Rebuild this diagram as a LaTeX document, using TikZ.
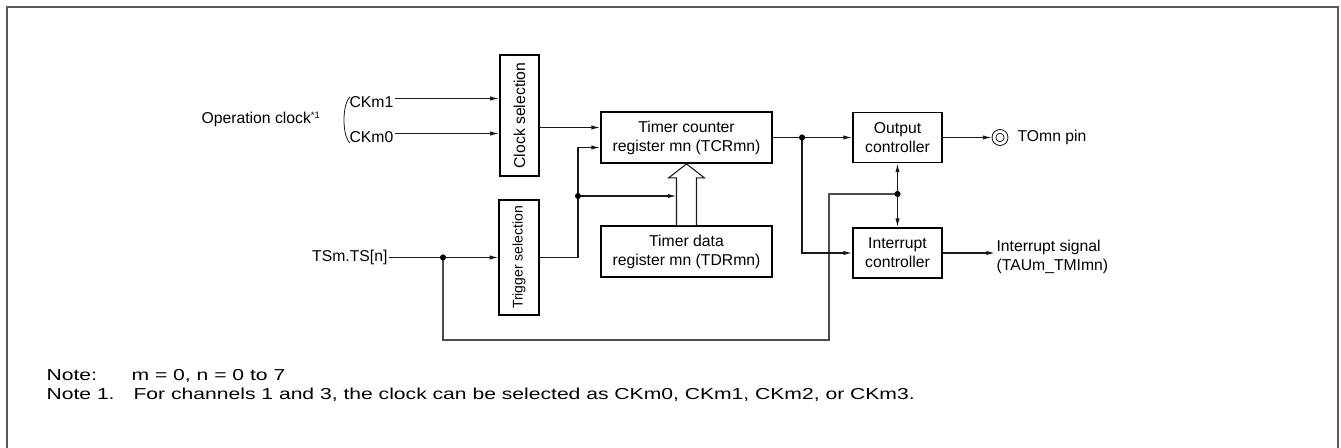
\documentclass[tikz,border=0pt]{standalone}
\usepackage{fontspec}
\setmainfont{Liberation Sans}
\newfontfamily\notefont[FakeStretch=1.33]{Liberation Sans}
\usepackage{graphicx}
\usetikzlibrary{arrows.meta,calc,positioning}

\begin{document}
\begin{tikzpicture}[
    x=0.75pt, y=-0.75pt,
    font=\fontsize{11.8}{14.3}\selectfont,
    box/.style={rectangle, draw, line width=1.4pt, align=center, inner sep=0pt},
    selbox/.style={box, minimum width=29.5pt},
    regbox/.style={box, minimum width=128.25pt, minimum height=38.25pt},
    ctrlbox/.style={box, minimum width=66.75pt, minimum height=37.5pt},
    sig/.style={draw=black!90, line width=0.8pt},
    arrow/.style={sig, -{Latex[length=6.5pt,width=3.2pt]}},
    lbl/.style={inner sep=1pt},
    frame/.style={draw=black!65, line width=1.5pt}
]
\useasboundingbox (0,0) rectangle (1341,448);
\draw[frame] (7,460) -- (7,7) -- (1338,7) -- (1338,460);

% blocks
\node[selbox, minimum height=90.75pt] (clksel) at (519.5,115.5) {\rotatebox{90}{Clock selection}};
\node[selbox, minimum height=86.25pt] (trgsel) at (519,257.5) {\rotatebox{90}{\fontsize{10.5}{12}\selectfont Trigger selection}};
\node[regbox] (tcr) at (686.5,137.5) {Timer counter\\register mn (TCRmn)};
\node[regbox] (tdr) at (686.5,251.5) {Timer data\\register mn (TDRmn)};
\node[ctrlbox] (outc) at (897.5,137.5) {Output\\controller};
\node[ctrlbox] (intc) at (897.5,253) {Interrupt\\controller};

% inputs and outputs
\node[lbl, anchor=east] (opclk) at (322,119.5) {Operation clock\textsuperscript{\fontsize{7}{8}\selectfont *1}};
\node[lbl, anchor=west] (ckm1) at (348,102.5) {CKm1};
\node[lbl, anchor=west] (ckm0) at (348,137.5) {CKm0};
\node[lbl, anchor=east] (tsn) at (389,257.5) {TSm.TS[n]};
\node[circle, draw=black, double, double distance=2.2pt, line width=0.65pt,
      minimum size=9pt, inner sep=0pt, outer sep=1.8pt] (tomn) at (1000,137.5) {};
\node[lbl, anchor=west] (tomntxt) at (1016,137.5) {TOmn pin};
\node[lbl, anchor=west, align=left] (intsig) at (995,257) {Interrupt signal\\(TAUm\_TMImn)};

% notes
\node[lbl, anchor=base west, font=\notefont\fontsize{11.9}{14}\selectfont] (note0) at (45,381) {Note:};
\node[lbl, anchor=base west, font=\notefont\fontsize{11.9}{14}\selectfont] (note0txt) at (130,381) {m = 0, n = 0 to 7};
\node[lbl, anchor=base west, font=\notefont\fontsize{11.9}{14}\selectfont] (note1) at (45,400) {Note 1.};
\node[lbl, anchor=base west, font=\notefont\fontsize{11.9}{14}\selectfont] (note1txt) at (132,400) {For channels 1 and 3, the clock can be selected as CKm0, CKm1, CKm2, or CKm3.};

% junctions
\coordinate (jtsn) at (443,257.5);
\coordinate (jtrg) at (578,196);
\coordinate (jout) at (802,137.5);
\coordinate (jint) at (897.5,194);
\coordinate (loopc) at (829,340);
\coordinate (tcrin1) at ([yshift=7.5pt]tcr.west);
\coordinate (tcrin2) at ([yshift=-7.5pt]tcr.west);
\coordinate (shl) at ($(tdr.north)+(-10,0)$);
\coordinate (shr) at ($(tdr.north)+(10,0)$);

% bracket
\draw[sig, line width=0.6pt] (350,97) .. controls (342,104) and (342,136) .. (350,143);

% connectors
\draw[arrow] ([yshift=3pt]ckm1.east) -- ([yshift=3pt]ckm1.east -| clksel.west);
\draw[arrow] ([yshift=3pt]ckm0.east) -- ([yshift=3pt]ckm0.east -| clksel.west);
\draw[arrow] (tcrin1 -| clksel.east) -- (tcrin1);
\draw[arrow] (trgsel.east) -| (jtrg) |- (tcrin2);
\draw[arrow] (jtrg) -- (jtrg -| shl);
\draw[arrow] (tsn) -- (tsn -| trgsel.west);
\draw[sig, draw=black!70] (jtsn) |- (loopc) |- (jint);
\draw[sig, fill=white] (shl) -- ($(tcr.south)+(-10,14)$) -- ($(tcr.south)+(-18,14)$) -- (tcr.south)
    -- ($(tcr.south)+(18,14)$) -- ($(tcr.south)+(10,14)$) -- (shr);
\draw[arrow] (tcr.east) -- (outc.west);
\draw[arrow] (jout) |- (intc.west);
\draw[sig, {Latex[length=6.5pt,width=3.2pt]}-{Latex[length=6.5pt,width=3.2pt]}] (outc.south) -- (intc.north);
\draw[arrow] (outc.east) -- (tomn);
\draw[arrow] (intc.east) -- (intc.east -| intsig.west);

% junction dots
\fill (jtsn) circle (2.3pt);
\fill (jtrg) circle (2.3pt);
\fill (jout) circle (2.3pt);
\fill (jint) circle (2.3pt);
\end{tikzpicture}
\end{document}
